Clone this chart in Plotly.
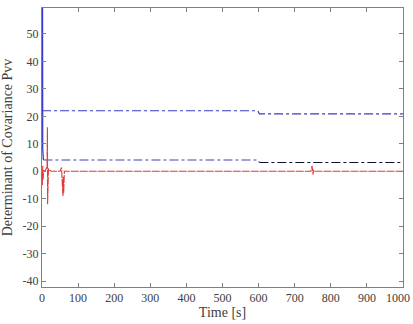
import plotly.graph_objects as go

# Data
blue_solid_t = [0, 0.5, 1, 2, 4]
blue_solid_v = [200, 40, 15, 8, 4.1]

upper_t = [0, 598, 602, 1000]
upper_v = [22.0, 22.0, 20.9, 20.9]

lower_blue_t = [4, 598, 602]
lower_blue_v = [4.1, 4.1, 3.2]

lower_black_t = [602, 1000]
lower_black_v = [3.2, 3.2]

red_t = [0, 1, 2, 3, 5, 8, 12, 14, 15, 15.5, 16, 17, 18, 20, 25, 50, 54, 55, 56, 57, 58, 59, 60, 62,
         100, 300, 500, 745, 748, 749, 750, 751, 752, 755, 1000]
red_v = [0, -5, 2, -3, 0.3, 0, 1, 2, 16, -12, 14, -4, 1, 0.5, 0, 0, 1.4, -3, 0.5, -6, -9, -2, -8, 0,
         0, 0, 0, 0, 2, -1, 1.5, -1.2, 0.5, 0, 0]

x_ticks = list(range(0, 1001, 100))
y_ticks = list(range(-40, 51, 10))

SERIF = "Liberation Serif, Times New Roman, serif"

fig = go.Figure()
fig.add_trace(go.Scatter(x=blue_solid_t, y=blue_solid_v, mode="lines",
                         line=dict(color="#3a3ad0", width=1.3), showlegend=False))
fig.add_trace(go.Scatter(x=upper_t, y=upper_v, mode="lines",
                         line=dict(color="#3a3ac0", width=1.1, dash="dashdot"), showlegend=False))
fig.add_trace(go.Scatter(x=lower_blue_t, y=lower_blue_v, mode="lines",
                         line=dict(color="#4040b8", width=1.1, dash="dashdot"), showlegend=False))
fig.add_trace(go.Scatter(x=lower_black_t, y=lower_black_v, mode="lines",
                         line=dict(color="#101030", width=1.1, dash="dashdot"), showlegend=False))
fig.add_trace(go.Scatter(x=red_t, y=red_v, mode="lines",
                         line=dict(color="#e03a3a", width=1.1, dash="8px,1px"), showlegend=False))

axis_common = dict(showgrid=False, zeroline=False, showline=True, linecolor="#808080",
                   linewidth=1, mirror="ticks", ticks="inside", ticklen=4, tickcolor="#808080",
                   tickfont=dict(family=SERIF, size=12, color="#404040"))

fig.update_xaxes(range=[0, 1000], tickvals=x_ticks[:-1], ticktext=[str(v) for v in x_ticks[:-1]],
                 title=dict(text="Time [s]", font=dict(family=SERIF, size=14, color="#404040"),
                            standoff=2),
                 **axis_common)
fig.update_xaxes(tickvals=x_ticks[:-1] + [x_ticks[-1]], ticktext=[str(v) for v in x_ticks[:-1]] + [""])
fig.update_yaxes(range=[-42.1, 59.4], tickvals=y_ticks, ticktext=[str(v) for v in y_ticks],
                 title=dict(text="Determinant of Covariance Pvv",
                            font=dict(family=SERIF, size=14, color="#404040"), standoff=6),
                 **axis_common)

# last x tick label, nudged left so it stays inside the page
fig.add_annotation(x=x_ticks[-1], y=0, xref="x", yref="paper", yanchor="top", yshift=-2,
                   xanchor="right", xshift=9,
                   text=str(x_ticks[-1]), showarrow=False,
                   font=dict(family=SERIF, size=12, color="#404040"))

fig.update_layout(width=413, height=324, margin=dict(l=42, r=10, t=7, b=31),
                  font=dict(family=SERIF),
                  plot_bgcolor="white", paper_bgcolor="white")

fig.write_html("out.html")
